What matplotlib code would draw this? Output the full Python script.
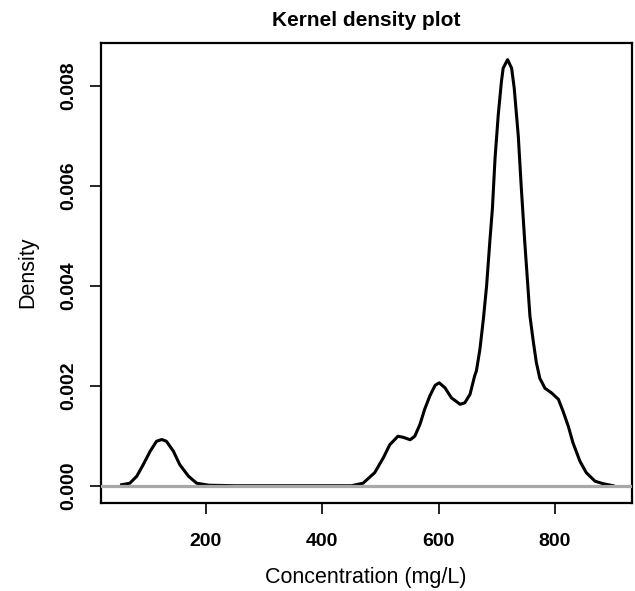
import numpy as np
import matplotlib
matplotlib.use('Agg')
import matplotlib.pyplot as plt

plt.rcParams['font.family'] = ['Liberation Sans', 'DejaVu Sans']

# density curve (x in mg/L, y density)
conc = [55, 69, 81, 92, 104, 115, 124, 132, 144, 155, 170, 184, 205,
        250, 300, 350, 400, 450, 470, 490, 505, 516, 530, 539, 551, 559,
        568, 576, 585, 594, 601, 611, 622, 637, 645, 654, 662, 665, 671,
        677, 682.5, 688, 692.5, 697, 702.5, 708, 711, 718.6, 725.5, 730,
        737, 742, 748, 753, 757, 763, 768, 774, 783, 794, 806, 814, 823,
        831, 843, 854, 869, 883, 900]
dens = [0.00002, 0.00005, 0.00019, 0.00042, 0.00069, 0.00089, 0.000925,
        0.00089, 0.00069, 0.00042, 0.00019, 0.00005, 0.00001,
        0.0, 0.0, 0.0, 0.0, 0.0, 0.00005, 0.00026, 0.00056, 0.00082,
        0.00099, 0.00097, 0.00092, 0.00099, 0.00123, 0.00153, 0.00180,
        0.00201, 0.00206, 0.00196, 0.00176, 0.00163, 0.00166, 0.00183,
        0.00220, 0.00230, 0.00273, 0.00334, 0.00400, 0.00488, 0.00555,
        0.00655, 0.00742, 0.00809, 0.00836, 0.00853, 0.00836, 0.00796,
        0.00700, 0.00600, 0.00490, 0.00407, 0.00340, 0.00287, 0.00247,
        0.00215, 0.00195, 0.00186, 0.00173, 0.00149, 0.00119, 0.00086,
        0.00049, 0.00026, 0.00009, 0.00004, 0.0]

x_ticks = [200, 400, 600, 800]
y_ticks = [0.000, 0.002, 0.004, 0.006, 0.008]

fig = plt.figure(figsize=(6.35, 5.91), dpi=100)
ax = fig.add_axes([0.1586, 0.1494, 0.8362, 0.7784])

ax.plot(conc, dens, color='black', linewidth=2.2, zorder=2)
# R draws the zero line on top of the curve, hiding it where density ~ 0
ax.axhline(0, color='#a8a8a8', linewidth=2.3, zorder=3)

ax.set_xlim(19, 932)
ax.set_ylim(-0.00034, 0.00887)

ax.set_xticks(x_ticks)
ax.set_xticklabels([str(v) for v in x_ticks], fontsize=14, fontweight='bold')
ax.set_yticks(y_ticks)
ax.set_yticklabels([f'{v:.3f}' for v in y_ticks], fontsize=14,
                   fontweight='bold', rotation=90, va='center')
ax.tick_params(direction='out', length=8, width=1.2)
ax.tick_params(axis='x', pad=14)
ax.tick_params(axis='y', pad=9)

for s in ax.spines.values():
    s.set_linewidth(1.6)

ax.set_title('Kernel density plot', fontsize=15, fontweight='bold', pad=12)
ax.set_xlabel('Concentration (mg/L)', fontsize=15.5, labelpad=12)
ax.set_ylabel('Density', fontsize=15.5, labelpad=16)

fig.savefig('out.png', dpi=100, facecolor='white')
